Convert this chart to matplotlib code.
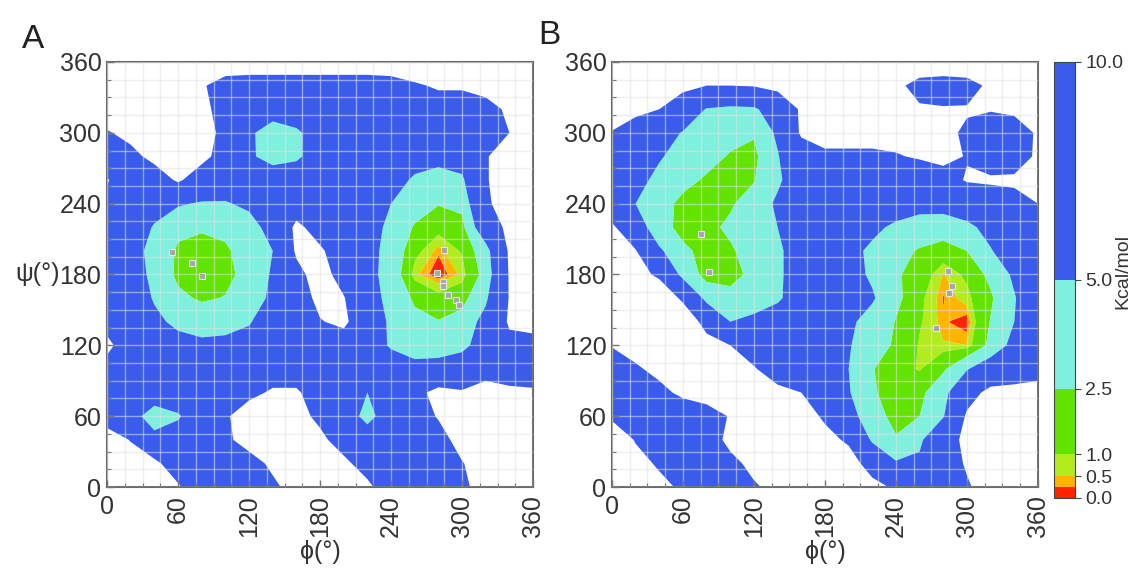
import numpy as np
import matplotlib
matplotlib.use("Agg")
import matplotlib.pyplot as plt
from matplotlib.ticker import MultipleLocator

plt.rcParams['font.family'] = ['Liberation Sans', 'DejaVu Sans']

# Grid of the energy maps (degrees)
phi = list(range(0, 361, 20))
psi = list(range(0, 361, 20))

# Energy (kcal/mol) read at each grid node, rows go from psi=0 to psi=360
energy_a = [
    [12, 12, 11, 10.5, 7, 7, 7, 9, 12, 12, 12, 11, 7, 7, 7, 9, 12, 12, 12],
    [12, 12, 11, 7.5, 7, 7, 8, 11, 12, 12, 11, 8, 7, 7, 7.5, 9.8, 12, 12, 12],
    [12, 9.8, 5.8, 6.5, 7, 9, 12, 12, 12, 11, 8, 6.5, 7, 7, 8.5, 11.5, 12, 12, 12],
    [8, 6, 3.8, 4.7, 7, 9.5, 12, 12, 11.5, 9, 6.5, 4.2, 6.5, 8, 10.3, 12, 12, 12, 12],
    [7.5, 7, 6.5, 7, 7.5, 8, 9, 10.5, 10.5, 8, 6, 5, 6.5, 9, 11, 10.3, 11.5, 10.8, 10.5],
    [8.5, 7, 6.5, 6.5, 6.5, 7, 7, 8, 8, 7.5, 6.5, 6, 6, 6, 6.5, 7.5, 8.5, 8, 8],
    [11, 7.5, 6.5, 5.8, 5.5, 5.6, 6, 7, 8, 8.5, 8, 6, 4.8, 3.6, 3.3, 4, 7, 9, 8.5],
    [8.5, 7, 5.5, 4.5, 4, 4.2, 4.8, 6.5, 8, 9.8, 10.8, 7, 4.5, 3, 2.6, 3.3, 6, 10.5, 11.5],
    [8, 6.5, 4.8, 3, 2.2, 2.6, 3.8, 5.5, 8, 11, 10.2, 6.5, 4, 2.2, 1.3, 1.8, 4.5, 10.2, 12],
    [7.5, 6, 4.5, 2.0, 1.5, 1.9, 3.3, 5.3, 9, 11.5, 8.5, 6, 3.8, 0.6, 0.02, 0.6, 3.2, 10.3, 12],
    [7.5, 6, 4.2, 2.2, 1.6, 2.2, 3.5, 5, 10.5, 10.5, 8, 6, 4, 1.3, 0.3, 1.1, 3.8, 10.5, 12],
    [8, 6.5, 4.8, 3, 2.8, 3, 4, 6, 10.8, 8.5, 7, 6.5, 4.2, 2.3, 1.3, 1.9, 7.5, 11, 12],
    [9, 7, 6, 5.3, 4.7, 4.8, 5.5, 6.5, 8, 7.5, 7, 6.5, 5, 3.5, 2.6, 3, 9.5, 11.5, 11.5],
    [10.3, 7, 8, 10.5, 8, 6.5, 6.5, 7, 7, 7, 7, 7, 6.5, 4.5, 3.8, 4.5, 9.7, 12, 12],
    [7.5, 9, 11, 12, 11, 8.5, 5.5, 3.8, 4.5, 6.5, 7, 7, 7, 6.5, 6, 6.5, 9.7, 12, 12],
    [9.7, 11, 12, 12, 11.5, 9, 5.5, 3.6, 4.5, 6.5, 7, 7, 7, 7, 7, 7, 8, 10, 11],
    [12, 12, 12, 12, 11, 8.5, 7, 6.5, 7, 7, 7, 7, 7, 7.5, 8, 8, 9, 10.5, 11],
    [12, 12, 12, 12, 10.5, 8, 7.5, 7.5, 7.5, 7.5, 7.5, 7.5, 8, 9.5, 10.5, 10.5, 11, 11, 11.5],
    [13] * 19,
]

energy_b = [
    [12, 12, 10.8, 9.5, 7, 7, 9.6, 11, 12, 12, 12, 11, 9.5, 7, 7, 9.5, 12, 12, 12],
    [12, 11, 9.6, 7, 7, 9, 11, 12, 12, 12, 11.5, 8.5, 5.3, 5.5, 7.5, 10.5, 12, 12, 12],
    [12, 9.8, 7, 7, 8, 11, 12, 12, 12, 11, 9.5, 4.5, 2.7, 4.5, 8, 11, 12, 12, 12],
    [9.5, 7.5, 7, 7.5, 8, 10.3, 12, 12, 11.5, 9.5, 6, 3.5, 1.8, 2.5, 4.8, 10.5, 12, 12, 12],
    [7, 7.5, 9, 10.8, 12, 12, 11.5, 11, 10, 7.5, 5.2, 2.8, 1.4, 2.0, 4, 8.5, 11, 10.8, 10.5],
    [8, 9.5, 11, 12, 12, 11.5, 10.3, 8, 7, 6.5, 5, 2.6, 1.5, 0.9, 2.2, 4.8, 7, 8.5, 9.5],
    [10.2, 11.5, 12, 12, 11, 10, 8, 7, 6.5, 6, 5.2, 3.5, 2.2, 0.9, 0.55, 0.5, 3, 6, 8],
    [12, 12, 12, 12, 9, 5.0, 6, 6.5, 6.5, 6.5, 5.5, 4, 2.4, 1.1, 0.3, 0.05, 2.6, 5, 7.5],
    [12, 12, 12, 9.5, 4, 3.0, 3.0, 4.6, 6.5, 7, 6.5, 5.3, 3, 1.2, 0.22, 0.72, 2.2, 4.8, 7.5],
    [12, 11, 9.5, 4.0, 1.8, 2.0, 2.9, 4.5, 6.5, 7, 6, 4.6, 2.8, 1.6, 0.45, 1.2, 3, 5.5, 8],
    [12, 10.2, 5.5, 2.7, 2.2, 2.3, 3.2, 4.5, 6.5, 7, 5.8, 4.5, 3.2, 2.3, 1.6, 2.5, 4.8, 7, 9],
    [10.6, 7, 2.9, 2.2, 2.1, 2.8, 3.6, 5, 7, 7, 6.5, 5.6, 4.5, 3.8, 3.7, 4.3, 6, 8, 9.5],
    [7.5, 5, 3.5, 1.9, 1.7, 2.3, 3.3, 5.5, 7, 7, 7, 7, 6.5, 6, 6, 7, 8, 9, 10],
    [7.5, 6, 4.2, 3.2, 2.2, 1.8, 2.4, 4.5, 7, 7, 7.5, 7.5, 7.5, 8, 8.5, 10.3, 10.5, 10.5, 11],
    [7.5, 6.5, 5.3, 3.8, 3.3, 2.3, 2.0, 4.8, 8, 9.5, 9.5, 9.5, 9.8, 10.3, 11, 9.8, 8, 8.5, 10.5],
    [9.8, 8, 6.5, 4.8, 3.5, 3.3, 2.7, 5.5, 10.5, 11, 11, 11, 11, 11, 10.8, 9.5, 7.5, 8, 10.5],
    [12, 11, 10, 7.5, 4.8, 4.3, 4.5, 7, 10.5, 12, 12, 12, 11.5, 10.5, 10.3, 10.3, 10.3, 10.8, 12],
    [12, 12, 12, 11, 10, 10, 10.2, 11, 12, 12, 12, 12, 11, 8.5, 8, 8.5, 10.8, 12, 12],
    [13] * 19,
]

# sampled conformations (phi, psi)
points_a_phi = [55, 72, 80, 285, 279, 284, 284, 288, 295, 297]
points_a_psi = [199, 190, 179, 201, 181, 174, 170, 163, 158, 154]
points_b_phi = [75, 82, 284, 287, 285, 274]
points_b_psi = [214, 182, 183, 170, 164, 135]

levels = [0, 0.25, 0.5, 1.0, 2.5, 5.0, 10.0]
level_colors = ['#ff2400', '#ffb400', '#b2ec1c', '#62e400', '#7ff0de', '#3a5cec']
cbar_ticks = [0.0, 0.5, 1.0, 2.5, 5.0, 10.0]

fig = plt.figure(figsize=(11.4, 5.69), dpi=100)
ax_a = fig.add_axes([0.0939, 0.1441, 0.3737, 0.747])
ax_b = fig.add_axes([0.5368, 0.1441, 0.3737, 0.747])
cax = fig.add_axes([0.9246, 0.1248, 0.0184, 0.7663])


def draw_panel(ax, energy, pts_phi, pts_psi):
    cs = ax.contourf(phi, psi, np.array(energy), levels=levels, colors=level_colors,
                     antialiased=True, zorder=1)
    ax.plot(pts_phi, pts_psi, 's', ms=4.5, mfc='#a6a6a6', mec='#e6e6e6',
            mew=0.8, zorder=4)
    ax.set_xlim(0, 360)
    ax.set_ylim(0, 360)
    ax.xaxis.set_major_locator(MultipleLocator(60))
    ax.yaxis.set_major_locator(MultipleLocator(60))
    ax.xaxis.set_minor_locator(MultipleLocator(15))
    ax.yaxis.set_minor_locator(MultipleLocator(15))
    ax.set_axisbelow(False)
    ax.grid(which='both', color='#e2e2e2', alpha=0.55, lw=1.0)
    ax.tick_params(which='both', direction='in', color='#777777', labelsize=18)
    ax.tick_params(which='major', length=5, width=1)
    ax.tick_params(which='minor', length=3, width=0.8)
    for sp in ax.spines.values():
        sp.set_color('#6a6a6a')
        sp.set_linewidth(1.5)
    ax.set_xticks(range(0, 361, 60))
    labels = ax.set_xticklabels(['0', '60', '120', '180', '240', '300', '360'])
    for lab in labels[1:]:
        lab.set_rotation(90)
    ax.tick_params(axis='x', pad=6)
    ax.tick_params(axis='y', pad=4)
    ax.set_xlabel('ϕ(°)', fontsize=18, labelpad=2, color='#333333')
    for t in ax.get_xticklabels() + ax.get_yticklabels():
        t.set_color('#333333')
    return cs


cs = draw_panel(ax_a, energy_a, points_a_phi, points_a_psi)
draw_panel(ax_b, energy_b, points_b_phi, points_b_psi)

ax_a.set_ylabel('ψ(°)', fontsize=18, rotation=0, ha='right', va='center', color='#333333')
ax_a.yaxis.set_label_coords(-0.11, 0.5)

fig.text(0.029, 0.93, 'A', fontsize=24, ha='center', va='center', color='#222222')
fig.text(0.482, 0.937, 'B', fontsize=24, ha='center', va='center', color='#222222')

cb = fig.colorbar(cs, cax=cax, ticks=cbar_ticks, spacing='proportional', format='%.1f')
cb.outline.set_linewidth(0.8)
cb.outline.set_edgecolor('#444444')
cb.ax.tick_params(labelsize=14, length=4, width=0.8, color='#444444', labelcolor='#333333')
cb.set_label('Kcal/mol', fontsize=14, color='#333333')
cb.ax.yaxis.set_label_coords(2.9, 0.52)

fig.savefig('out.png', dpi=100)
